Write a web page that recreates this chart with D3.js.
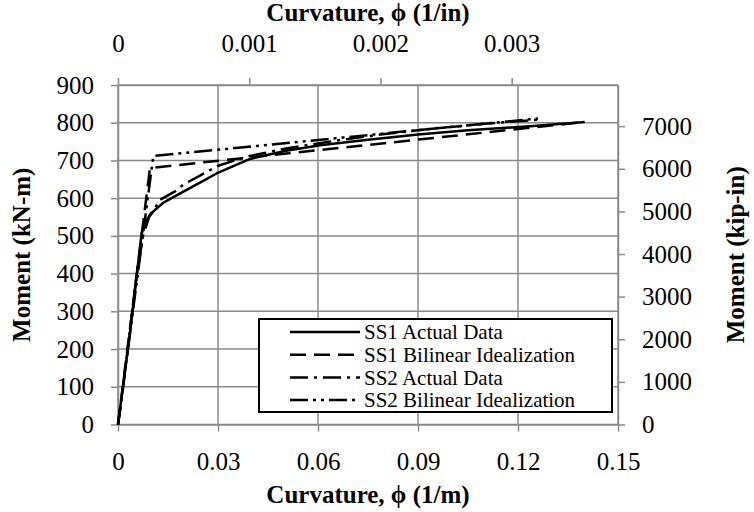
<!DOCTYPE html>
<html>
<head>
<meta charset="utf-8">
<script src="https://cdn.jsdelivr.net/npm/d3@7"></script>
<style>
  body { margin: 0; background: #fff; }
  text { font-family: "Liberation Serif", "Times New Roman", serif; fill: #000; }
</style>
</head>
<body>
<div id="chart"></div>
<script>
// curvature (1/m), moment (kN-m)
const ss1Actual = [[0,0],[0.0036,243],[0.0071,508],[0.0086,543],[0.0106,565],[0.0136,588],[0.0181,610],[0.0246,641],[0.0301,668],[0.0396,704],[0.05,725],[0.0606,740],[0.075,755],[0.09,769],[0.105,780],[0.1246,791],[0.14,802]];
const ss1Bilinear = [[0,0],[0.0096,680],[0.14,802]];
const ss2Actual = [[0,0],[0.001,60],[0.003,205],[0.0055,390],[0.0075,500],[0.0095,555],[0.0111,574],[0.0126,596],[0.0171,618],[0.0196,636],[0.0246,660],[0.0301,686],[0.0386,710],[0.05,731],[0.065,752],[0.08,770],[0.095,785],[0.11,797],[0.126,808]];
const ss2Bilinear = [[0,0],[0.0106,712],[0.126,811]];

const seriesNames = ["SS1 Actual Data", "SS1 Bilinear Idealization", "SS2 Actual Data", "SS2 Bilinear Idealization"];
const xTicks = [0, 0.03, 0.06, 0.09, 0.12, 0.15];
const xTopTicks = [0, 0.001, 0.002, 0.003];
const yTicks = [0, 100, 200, 300, 400, 500, 600, 700, 800, 900];
const yRightTicks = [0, 1000, 2000, 3000, 4000, 5000, 6000, 7000];

const W = 754, H = 512;
const margin = { top: 85, right: 136, bottom: 87.5, left: 118 };
const width = W - margin.left - margin.right,
      height = H - margin.top - margin.bottom;
const gray = "#8a8a8a";
const tickFont = "25px";

const svg = d3.select("#chart").append("svg")
  .attr("width", W).attr("height", H)
  .style("background", "#fff");

const g = svg.append("g").attr("transform", "translate(" + margin.left + "," + margin.top + ")");

const x = d3.scaleLinear().domain([0, 0.15]).range([0, width]);
const xTop = d3.scaleLinear().domain([0, 0.15 / 39.37]).range([0, width]);
const y = d3.scaleLinear().domain([0, 900]).range([height, 0]);
const yRight = d3.scaleLinear().domain([0, 900 * 8.8507]).range([height, 0]);

// gridlines
g.append("g").selectAll("line").data(yTicks).join("line")
  .attr("x1", 0).attr("x2", width)
  .attr("y1", d => y(d)).attr("y2", d => y(d))
  .attr("stroke", gray).attr("stroke-width", 1.5);
g.append("g").selectAll("line").data(xTicks).join("line")
  .attr("x1", d => x(d)).attr("x2", d => x(d))
  .attr("y1", 0).attr("y2", height)
  .attr("stroke", gray).attr("stroke-width", 1.5);

function styleAxis(sel) {
  sel.selectAll(".domain").attr("stroke", gray).attr("stroke-width", 1.5);
  sel.selectAll(".tick line").attr("stroke", gray).attr("stroke-width", 1.5);
  sel.selectAll("text").attr("font-size", tickFont).attr("font-family", "Liberation Serif").attr("fill", "#000");
}

g.append("g").attr("transform", "translate(0," + height + ")")
  .call(d3.axisBottom(x).tickValues(xTicks).tickSize(7).tickSizeOuter(0).tickPadding(21)
    .tickFormat(d => d === 0 ? "0" : d3.format(".2f")(d)))
  .call(styleAxis);

g.append("g")
  .call(d3.axisTop(xTop).tickValues(xTopTicks).tickSize(7).tickSizeOuter(0).tickPadding(26)
    .tickFormat(d => d === 0 ? "0" : d3.format(".3f")(d)))
  .call(styleAxis);

g.append("g")
  .call(d3.axisLeft(y).tickValues(yTicks).tickSize(7).tickSizeOuter(0).tickPadding(17))
  .call(styleAxis);

g.append("g").attr("transform", "translate(" + width + ",0)")
  .call(d3.axisRight(yRight).tickValues(yRightTicks).tickSize(7).tickSizeOuter(0).tickPadding(17)
    .tickFormat(d3.format("d")))
  .call(styleAxis);

// series
const line = d3.line().x(d => x(d[0])).y(d => y(d[1]));
const styles = [
  { data: ss1Actual, dash: null },
  { data: ss1Bilinear, dash: "16,8" },
  { data: ss2Actual, dash: "18,6,3,6" },
  { data: ss2Bilinear, dash: "18,5,3,5,3,5" }
];

g.append("g").selectAll("path").data(styles).join("path")
  .attr("d", d => line(d.data))
  .attr("fill", "none")
  .attr("stroke", "#000")
  .attr("stroke-width", 2.5)
  .attr("stroke-dasharray", d => d.dash);

// legend
const lg = svg.append("g").attr("transform", "translate(259,319)");
lg.append("rect").attr("width", 353).attr("height", 93)
  .attr("fill", "#fff").attr("stroke", "#000").attr("stroke-width", 2);
const items = lg.selectAll("g.item").data(styles).join("g")
  .attr("class", "item")
  .attr("transform", (d, i) => "translate(0," + (13 + i * 22.7) + ")");
items.append("line")
  .attr("x1", 31).attr("x2", 101).attr("y1", 0).attr("y2", 0)
  .attr("stroke", "#000").attr("stroke-width", 2.5)
  .attr("stroke-dasharray", d => d.dash);
items.append("text")
  .attr("x", 105).attr("y", 0).attr("dy", "0.35em")
  .attr("font-size", "21px")
  .text((d, i) => seriesNames[i]);

// axis titles
svg.append("text")
  .attr("x", margin.left + width / 2).attr("y", 503)
  .attr("text-anchor", "middle").attr("font-size", "25px").attr("font-weight", "bold")
  .text("Curvature,  \u03D5 (1/m)");
svg.append("text")
  .attr("x", margin.left + width / 2).attr("y", 21)
  .attr("text-anchor", "middle").attr("font-size", "25px").attr("font-weight", "bold")
  .text("Curvature, \u03D5 (1/in)");
svg.append("text")
  .attr("transform", "translate(30," + (margin.top + height / 2) + ") rotate(-90)")
  .attr("text-anchor", "middle").attr("font-size", "25px").attr("font-weight", "bold")
  .text("Moment (kN-m)");
svg.append("text")
  .attr("transform", "translate(744," + (margin.top + height / 2) + ") rotate(-90)")
  .attr("text-anchor", "middle").attr("font-size", "25px").attr("font-weight", "bold")
  .text("Moment (kip-in)");
</script>
</body>
</html>
